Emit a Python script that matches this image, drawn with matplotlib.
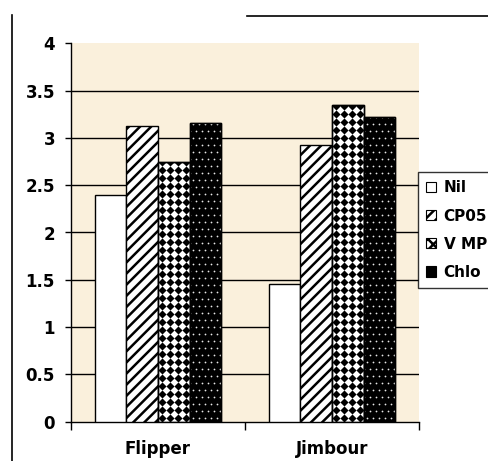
import matplotlib
matplotlib.use('Agg')
import matplotlib.pyplot as plt
import numpy as np
from matplotlib.patches import Patch
from matplotlib.lines import Line2D

sites = ['Flipper', 'Jimbour']
treatments = ['Nil', 'CP05', 'V MP', 'Chlo']
nil = [2.40, 1.46]
cp05 = [3.13, 2.92]
vmp = [2.74, 3.35]
chlo = [3.16, 3.22]
yticks = [0, 0.5, 1, 1.5, 2, 2.5, 3, 3.5, 4]
yticklabels = ['0', '0.5', '1', '1.5', '2', '2.5', '3', '3.5', '4']

plt.rcParams['font.family'] = ['DejaVu Sans']
plt.rcParams['font.weight'] = 'bold'
plt.rcParams['hatch.linewidth'] = 1.8

W, H = 489, 461
fig = plt.figure(figsize=(W / 100, H / 100), dpi=100)
ax = fig.add_axes([71 / W, 1 - 421.7 / H, (419 - 71) / W, (421.7 - 43.3) / H])
ax.set_facecolor('#FAF0DC')

x = np.arange(len(sites))
bw = 0.182
offs = np.array([-1.5, -0.5, 0.5, 1.5]) * bw

# pixel -> data conversion for pattern spacing
px_x = 2.0 / 348
px_y = 4.0 / 378.4


def pattern(bar, sx, sy, stagger, **kw):
    # fill a bar with a grid of markers clipped to its outline
    x0, w, h = bar.get_x(), bar.get_width(), bar.get_height()
    pts = []
    for i, yy in enumerate(np.arange(sy / 2 * px_y, h + sy * px_y, sy * px_y)):
        shift = (sx / 2 * px_x) if (stagger and i % 2) else 0
        for xx in np.arange(x0 + sx / 2 * px_x - shift, x0 + w + sx * px_x, sx * px_x):
            pts.append((xx, yy))
    pts = np.array(pts)
    sc = ax.scatter(pts[:, 0], pts[:, 1], linewidths=0, zorder=4, **kw)
    sc.set_clip_path(bar)


# Nil: plain white
ax.bar(x + offs[0], nil, bw, color='white', edgecolor='black', lw=1, zorder=3)

# CP05: diagonal stripes
ax.bar(x + offs[1], cp05, bw, color='white', edgecolor='black', lw=1,
       hatch='///', zorder=3)

# VMP: black diamonds on white
vbars = ax.bar(x + offs[2], vmp, bw, color='white', edgecolor='black', lw=1, zorder=3)
for b in vbars:
    pattern(b, 8, 8, False, marker='D', s=17, c='black')
ax.bar(x + offs[2], vmp, bw, fill=False, edgecolor='black', lw=1, zorder=5)

# Chlo: black with small white dots
cbars = ax.bar(x + offs[3], chlo, bw, color='black', edgecolor='black', lw=1, zorder=3)
for b in cbars:
    pattern(b, 6, 7, True, marker='o', s=1.6, c='#e8e8e8')
ax.bar(x + offs[3], chlo, bw, fill=False, edgecolor='black', lw=1, zorder=5)

ax.set_xlim(-0.5, 1.5)
ax.set_ylim(0, 4)
ax.set_yticks(yticks)
ax.set_yticklabels(yticklabels, fontsize=12, fontweight='bold')
for yv in yticks[1:-1]:
    ax.axhline(yv, color='black', lw=1, zorder=1)

ax.set_xticks([-0.5, 0.5, 1.5])
ax.set_xticklabels([])
ax.set_xticks(x, minor=True)
ax.set_xticklabels(sites, minor=True, fontsize=12, fontweight='bold')
ax.tick_params(axis='x', which='major', direction='out', length=6, width=1)
ax.tick_params(axis='x', which='minor', length=0, pad=13.5)
ax.tick_params(axis='y', direction='out', length=4.5, width=1, pad=7)

for s in ['top', 'right']:
    ax.spines[s].set_visible(False)
for s in ['left', 'bottom']:
    ax.spines[s].set_linewidth(1)
    ax.spines[s].set_color('black')

handles = [
    Patch(facecolor='white', edgecolor='black', lw=0.8),
    Patch(facecolor='white', edgecolor='black', lw=0.8, hatch='///'),
    Patch(facecolor='white', edgecolor='black', lw=0.8, hatch='xxx'),
    Patch(facecolor='black', edgecolor='black', lw=0.8),
]
leg = fig.legend(handles, treatments, loc='upper left',
                 bbox_to_anchor=(417.7 / W, 1 - 172 / H),
                 prop={'family': 'DejaVu Sans', 'weight': 'bold', 'size': 11},
                 frameon=True, fancybox=False, edgecolor='black',
                 handlelength=0.65, handleheight=0.65, handletextpad=0.5,
                 labelspacing=0.86, borderpad=0.55, borderaxespad=0)
leg.get_frame().set_linewidth(1)

# page border lines
fig.add_artist(Line2D([12 / W, 12 / W], [0, 1 - 15 / H], color='black', lw=1.2))
fig.add_artist(Line2D([247 / W, 1], [1 - 16 / H, 1 - 16 / H], color='black', lw=1.2))

fig.savefig('out.png', dpi=100)
